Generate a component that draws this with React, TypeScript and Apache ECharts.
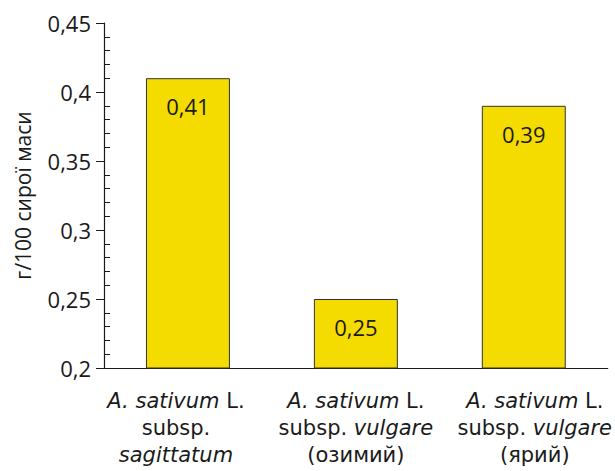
import React, { useEffect, useRef } from "react";
import * as echarts from "echarts";

const categories = [
  "{i|A. sativum} L.\nsubsp.\n{i|sagittatum}",
  "{i|A. sativum} L.\nsubsp. {i|vulgare}\n(озимий)",
  "{i|A. sativum} L.\nsubsp. {i|vulgare}\n(ярий)",
];
const values = [0.41, 0.25, 0.39];
const yName = "г/100 сирої маси";
const yMin = 0.2;
const yMax = 0.45;
const yStep = 0.05;

const FONT = "'Open Sans', 'Noto Sans', sans-serif";
const XFONT = "'DejaVu Sans', sans-serif";
const fmt = (v: number) => String(Math.round(v * 100) / 100).replace(".", ",");
const labelPads = [
  [0, 24, 0, 0],
  [0, 0, 0, 0],
  [0, 0, 0, 22],
];

export default function App() {
  const ref = useRef<HTMLDivElement>(null);
  useEffect(() => {
    if (!ref.current) return;
    const chart = echarts.init(ref.current, null, { renderer: "svg" });
    chart.setOption({
      animation: false,
      backgroundColor: "#ffffff",
      grid: { left: 104, right: 7, top: 23, bottom: 103, containLabel: false },
      xAxis: {
        type: "category",
        data: categories.map((c, i) => ({ value: c, textStyle: { padding: labelPads[i] } })),
        axisLine: { show: true, lineStyle: { color: "#1a1a1a", width: 1.2 } },
        axisTick: { show: false },
        axisLabel: {
          interval: 0,
          margin: 19,
          color: "#1a1a1a",
          fontFamily: XFONT,
          fontSize: 21,
          lineHeight: 27,
          align: "center",
          rich: {
            i: { fontStyle: "italic", fontFamily: XFONT, fontSize: 21, lineHeight: 27, color: "#1a1a1a" },
          },
        },
      },
      yAxis: [
        {
          type: "value",
          min: yMin,
          max: yMax,
          interval: yStep,
          position: "left",
          name: yName,
          nameLocation: "middle",
          nameGap: 71,
          nameRotate: 90,
          nameTextStyle: { color: "#1a1a1a", fontFamily: FONT, fontSize: 21 },
          axisLine: { show: true, lineStyle: { color: "#1a1a1a", width: 1.2 } },
          axisTick: { show: true, inside: false, length: 8, lineStyle: { color: "#1a1a1a" } },
          splitLine: { show: false },
          axisLabel: {
            margin: 13,
            color: "#1a1a1a",
            fontFamily: FONT,
            fontSize: 22,
            formatter: (v: number) => fmt(v),
          },
        },
        {
          type: "value",
          min: yMin,
          max: yMax,
          interval: yStep,
          position: "left",
          offset: 0,
          axisLine: { show: false },
          axisTick: { show: false, inside: true },
          minorTick: { show: true, splitNumber: 5, length: 6, lineStyle: { color: "#1a1a1a", width: 1 } },
          axisLabel: { show: false },
          splitLine: { show: false },
        },
      ],
      series: [
        {
          type: "bar",
          data: values,
          yAxisIndex: 0,
          barWidth: "50%",
          itemStyle: { color: "#f5dc00", borderColor: "#333333", borderWidth: 1 },
          label: {
            show: true,
            position: "insideTop",
            distance: 17,
            color: "#1a1a1a",
            fontFamily: FONT,
            fontSize: 22,
            formatter: (p: any) => fmt(p.value),
          },
        },
      ],
    });
    return () => chart.dispose();
  }, []);
  return <div ref={ref} style={{ width: 615, height: 471, position: "absolute", left: 0, top: 0 }} />;
}
